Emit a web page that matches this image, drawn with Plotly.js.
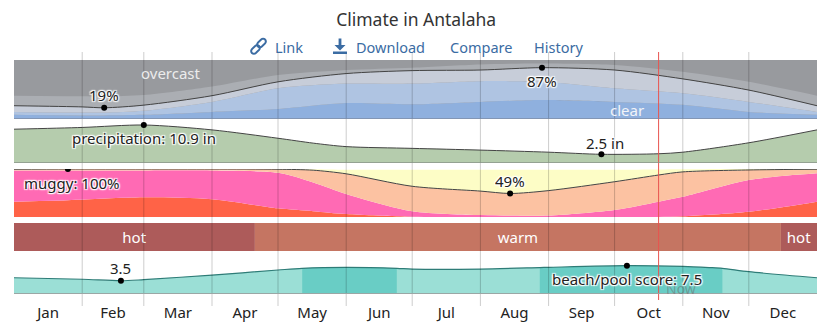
<!DOCTYPE html>
<html><head><meta charset="utf-8">
<script src="https://cdn.plot.ly/plotly-3.0.1.min.js"></script>
<style>html,body{margin:0;padding:0;background:#fff}#chart{width:834px;height:327px}</style>
</head><body><div id="chart"></div>
<script>
// ---------- DATA ----------
const months = ['Jan','Feb','Mar','Apr','May','Jun','Jul','Aug','Sep','Oct','Nov','Dec'];
const monthStartDays = [31,59,90,120,151,181,212,243,273,304,334];
const monthMidDays = [15.5,45,74.5,105,135.5,166,196.5,227.5,258,288.5,319,349.5];

// cloud cover: cumulative percent boundaries
const cloudDays       = [0,31,41,59,90,120,151,181,212,240,273,304,334,365];
const clearTop        = [7,6,6,7,12,17,27,25,29,32,29,24,12,7];
const mostlyClearTop  = [12,11,11,14,29,52,60,60,64,63,52,43.5,29,12];
const partlyCloudyTop = [22.5,20.5,19,23.5,39.5,63,77,82,83,87,83,68,49,22.5];
const mostlyCloudyTop = [39.5,38.5,38,40.5,55,74.5,83,87,92.5,94,91.5,80,63,39.5];

// precipitation (inches)
const precipDays = [0,31,59,90,120,136,151,181,212,243,267,293,304,334,365];
const precipIn   = [9.7,10.2,10.9,9.5,7.1,5.7,4.7,4.2,3.7,3.1,2.5,2.65,3.1,5.8,9.5];

// humidity comfort: cumulative percent boundaries
const muggyDays     = [0,24.5,59,90,120,136,151,181,212,225.5,243,273,293,304,334,365];
const miserableTop  = [32,35,41,37,18,12,6,0.5,0,0,0,0,0,1.5,11,32];
const oppressiveTop = [97,97,97,97,92,72,48,12,4,3,3,14.6,32,42,77,91];
const muggyTop      = [99.5,100,100,100,99.5,97.5,90,64,54,49,55,73.5,87.5,94,98,99.5];
const humidTop      = [100,100,100,100,100,99.5,98.5,98.5,98.5,98.5,98.5,98.5,99,99.5,100,100];

// temperature bands
const tempBandLabels = ['hot','warm','hot'];
const tempBandStart  = [0,109.5,348.6];
const tempBandEnd    = [109.5,348.6,365];

// beach / pool score
const beachDays  = [0,31,48.6,59,90,120,131,151,174,181,212,239,243,278.6,304,316,322,334,365];
const beachScore = [4.3,3.9,3.5,3.8,5.0,6.35,6.8,7.05,6.8,6.6,6.6,7.0,7.05,7.5,7.3,7.0,6.8,5.9,4.3];
const bestPeriods = [[131,174],[239,322]];

const nowDay = 293;

// ---------- STYLE ----------
const FONT = "'Noto Sans', 'Open Sans', sans-serif";
const C = {
  overcast:'#989a9e', mostlyCloudy:'#abaeb3', partly:'#c7cdd9', mostlyClear:'#afc4e2', clear:'#8fb0de',
  precip:'#b5ccad', miserable:'#ff6347', oppressive:'#ff6ab4', muggy:'#fcc2a2', humid:'#fdfdc6',
  hot:'#ad5b5a', warm:'#c57562', beach:'#9bdfd6', beachBest:'#69cdc5', beachLine:'#2e7c77',
  grid:'rgba(0,0,0,0.2)', link:'#3b6ca3'
};
const HALO = '1px 1px 1px #fff, -1px -1px 1px #fff, 1px -1px 1px #fff, -1px 1px 1px #fff, 0 0 3px #fff';

// pixel -> paper helpers (plot area 14..817 x, 60..294 y)
const L=14, R=817, T=60, B=294;
const px = x => (x-L)/(R-L);
const py = y => (B-y)/(B-T);

const traces = [];
function area(xs, ys, fill, color, yaxis, lineOpts){
  traces.push({type:'scatter', mode:'lines', x:xs, y:ys, yaxis:yaxis, fill:fill, fillcolor:color,
    line: lineOpts || {width:0, shape:'spline', smoothing:0.8}, hoverinfo:'skip'});
}
function dot(x, y, yaxis){
  traces.push({type:'scatter', mode:'markers', x:[x], y:[y], yaxis:yaxis,
    marker:{color:'#000', size:6}, hoverinfo:'skip'});
}
const darkLine = {width:1, color:'#444', shape:'spline', smoothing:0.8};

// cloud
area(cloudDays, clearTop, 'tozeroy', C.clear, 'y');
area(cloudDays, mostlyClearTop, 'tonexty', C.mostlyClear, 'y');
area(cloudDays, partlyCloudyTop, 'tonexty', C.partly, 'y', darkLine);
area(cloudDays, mostlyCloudyTop, 'tonexty', C.mostlyCloudy, 'y');
// precip
area(precipDays, precipIn, 'tozeroy', C.precip, 'y2', darkLine);
// muggy
area(muggyDays, miserableTop, 'tozeroy', C.miserable, 'y3');
area(muggyDays, oppressiveTop, 'tonexty', C.oppressive, 'y3');
area(muggyDays, muggyTop, 'tonexty', C.muggy, 'y3', darkLine);
area(muggyDays, humidTop, 'tonexty', C.humid, 'y3');
// temperature bands
traces.push({type:'bar', orientation:'h', yaxis:'y4',
  y: tempBandLabels.map(()=>0), base: tempBandStart,
  x: tempBandEnd.map((e,i)=>e-tempBandStart[i]), width:1,
  marker:{color: tempBandLabels.map(l=>C[l]), line:{width:0}},
  text: tempBandLabels, textposition:'inside', insidetextanchor:'middle', textangle:0,
  textfont:{color:'#fff', size:15, family:FONT}, hoverinfo:'skip'});
// beach
area(beachDays, beachScore, 'tozeroy', C.beach, 'y5');
bestPeriods.forEach(([a,b])=>{
  const idx = beachDays.map((d,i)=>i).filter(i=>beachDays[i]>=a && beachDays[i]<=b);
  area(idx.map(i=>beachDays[i]), idx.map(i=>beachScore[i]), 'tozeroy', C.beachBest, 'y5');
});
traces.push({type:'scatter', mode:'lines', x:beachDays, y:beachScore, yaxis:'y5',
  line:{width:1.2, color:C.beachLine, shape:'spline', smoothing:0.8}, hoverinfo:'skip'});

// extremes
function argExt(arr, fn){ const v = fn(...arr); return [arr.indexOf(v), v]; }
const [cMinI, cMin] = argExt(partlyCloudyTop, Math.min);
const [cMaxI, cMax] = argExt(partlyCloudyTop, Math.max);
const [pMaxI, pMax] = argExt(precipIn, Math.max);
const [pMinI, pMin] = argExt(precipIn, Math.min);
const [mMaxI, mMax] = argExt(muggyTop, Math.max);
const [mMinI, mMin] = argExt(muggyTop, Math.min);
const [bMinI, bMin] = argExt(beachScore, Math.min);
const [bMaxI, bMax] = argExt(beachScore, Math.max);
dot(cloudDays[cMinI], cMin, 'y'); dot(cloudDays[cMaxI], cMax, 'y');
dot(precipDays[pMaxI], pMax, 'y2'); dot(precipDays[pMinI], pMin, 'y2');
dot(muggyDays[mMaxI], mMax, 'y3'); dot(muggyDays[mMinI], mMin, 'y3');
dot(beachDays[bMinI], bMin, 'y5'); dot(beachDays[bMaxI], bMax, 'y5');

// ---------- SHAPES ----------
const shapes = [];
shapes.push({type:'rect', xref:'x', yref:'y', x0:0, x1:365, y0:0, y1:100, fillcolor:C.overcast, line:{width:0}, layer:'below'});
monthStartDays.forEach(d=>shapes.push({type:'line', xref:'x', yref:'paper', x0:d, x1:d, y0:py(306), y1:py(52),
  line:{color:C.grid, width:1}, layer:'above'}));
shapes.push({type:'line', xref:'x', yref:'paper', x0:nowDay, x1:nowDay, y0:py(300), y1:py(52), line:{color:'#e8534f', width:1}, layer:'above'});
// panel baselines
[['y',0,'#7f8ea6',1.5],['y2',0,'#8a948a',1.5],['y5',0,'#9aa7a5',2]].forEach(([ya,v,c,w])=>
  shapes.push({type:'line', xref:'paper', yref:ya, x0:0, x1:1, y0:v, y1:v, line:{color:c, width:w}, layer:'above'}));
// icons (download + link), drawn in pixel space
function P(x,y){ return px(x).toFixed(5)+','+py(y).toFixed(5); }
const dl = 'M'+P(338.6,38.5)+' L'+P(341.4,38.5)+' L'+P(341.4,45)+' L'+P(345.5,45)+' L'+P(340,50.5)+' L'+P(334.5,45)+' L'+P(338.6,45)+' Z '+
           'M'+P(333,51.5)+' L'+P(347,51.5)+' L'+P(347,54)+' L'+P(333,54)+' Z';
shapes.push({type:'path', xref:'paper', yref:'paper', path:dl, fillcolor:C.link, line:{width:0}});
function capsule(cx,cy,len,wid,ang){
  const a = ang*Math.PI/180, ux=Math.cos(a), uy=Math.sin(a), vx=-uy, vy=ux, r=wid/2, h=len/2-r;
  const pts=[];
  for(let k=0;k<=8;k++){ const t=-Math.PI/2+Math.PI*k/8; pts.push([cx+ux*(h+r*Math.cos(t))+vx*r*Math.sin(t), cy+uy*(h+r*Math.cos(t))+vy*r*Math.sin(t)]); }
  for(let k=0;k<=8;k++){ const t=Math.PI/2+Math.PI*k/8; pts.push([cx+ux*(-h+r*Math.cos(t))+vx*r*Math.sin(t), cy+uy*(-h+r*Math.cos(t))+vy*r*Math.sin(t)]); }
  return 'M'+pts.map(p=>P(p[0],p[1])).join(' L')+' Z';
}
shapes.push({type:'path', xref:'paper', yref:'paper', path:capsule(255.5,49.5,10,5.5,-45), line:{color:C.link, width:2}});
shapes.push({type:'path', xref:'paper', yref:'paper', path:capsule(261.5,43,10,5.5,-45), line:{color:C.link, width:2}});

// ---------- ANNOTATIONS ----------
const labFont = {family:FONT, size:15, color:'#222', shadow:HALO};
const ann = [];
function lab(x,y,yref,text,yshift,extra){
  ann.push(Object.assign({xref:'x', yref:yref, x:x, y:y, text:text, showarrow:false, yshift:yshift,
    xanchor:'center', yanchor:'middle', font:labFont}, extra||{}));
}
lab(cloudDays[cMinI], cMin, 'y', cMin+'%', 13);
lab(cloudDays[cMaxI], cMax, 'y', cMax+'%', -13);
lab(precipDays[pMaxI], pMax, 'y2', 'precipitation: '+pMax+' in', -13);
lab(precipDays[pMinI], pMin, 'y2', pMin+' in', 11, {xshift:4});
lab(muggyDays[mMaxI], mMax, 'y3', 'muggy: '+mMax+'%', -14, {xshift:4});
lab(muggyDays[mMinI], mMin, 'y3', mMin+'%', 12);
lab(beachDays[bMinI], bMin, 'y5', String(bMin), 13);
ann.push({xref:'x', yref:'y5', x:nowDay, y:1.4, text:'Now', showarrow:false, xanchor:'left', yanchor:'middle', xshift:5,
  font:{family:FONT, size:14, color:'rgba(110,110,110,0.55)'}});
lab(beachDays[bMaxI], bMax, 'y5', 'beach/pool score: '+bMax, -13);
ann.push({xref:'x', yref:'y', x:71.4, y:78, text:'overcast', showarrow:false, xanchor:'center', yanchor:'middle',
  font:{family:FONT, size:15, color:'#ececec'}});
ann.push({xref:'x', yref:'y', x:278.6, y:15, text:'clear', showarrow:false, xanchor:'center', yanchor:'middle',
  font:{family:FONT, size:15, color:'#f2f4f8'}});
// link row
[['Link',289],['Download',390],['Compare',481],['History',558]].forEach(([t,x])=>
  ann.push({xref:'paper', yref:'paper', x:px(x), y:py(46.5), text:t, showarrow:false, xanchor:'center', yanchor:'middle',
    font:{family:FONT, size:14.5, color:C.link}}));

const noAxis = {visible:false, fixedrange:true, showgrid:false, zeroline:false};
const layout = {
  width:834, height:327, margin:{l:L, r:834-R, t:T, b:327-B, pad:0},
  paper_bgcolor:'#fff', plot_bgcolor:'rgba(0,0,0,0)', showlegend:false, hovermode:false,
  title:{text:'Climate in Antalaha', x:0.499, xref:'container', y:1-20/327, yref:'container', yanchor:'middle',
    font:{family:FONT, size:17.5, color:'#333'}},
  xaxis:{range:[0,365], anchor:'y5', tickvals:monthMidDays, ticktext:months, ticks:'outside', ticklen:5,
    tickcolor:'rgba(0,0,0,0)', showgrid:false, zeroline:false, showline:false, fixedrange:true,
    tickfont:{family:FONT, size:15, color:'#222'}},
  yaxis: Object.assign({domain:[py(119),1], range:[0,100], anchor:'x'}, noAxis),
  yaxis2:Object.assign({domain:[py(163),py(122)], range:[0,41/3.486], anchor:'x'}, noAxis),
  yaxis3:Object.assign({domain:[py(217),py(169)], range:[0,100], anchor:'x'}, noAxis),
  yaxis4:Object.assign({domain:[py(251),py(223)], range:[-0.5,0.5], anchor:'x'}, noAxis),
  yaxis5:Object.assign({domain:[0,py(253)], range:[0,41/3.78], anchor:'x'}, noAxis),
  barmode:'overlay',
  shapes:shapes, annotations:ann
};
Plotly.newPlot('chart', traces, layout, {displayModeBar:false, staticPlot:true});
</script></body></html>
